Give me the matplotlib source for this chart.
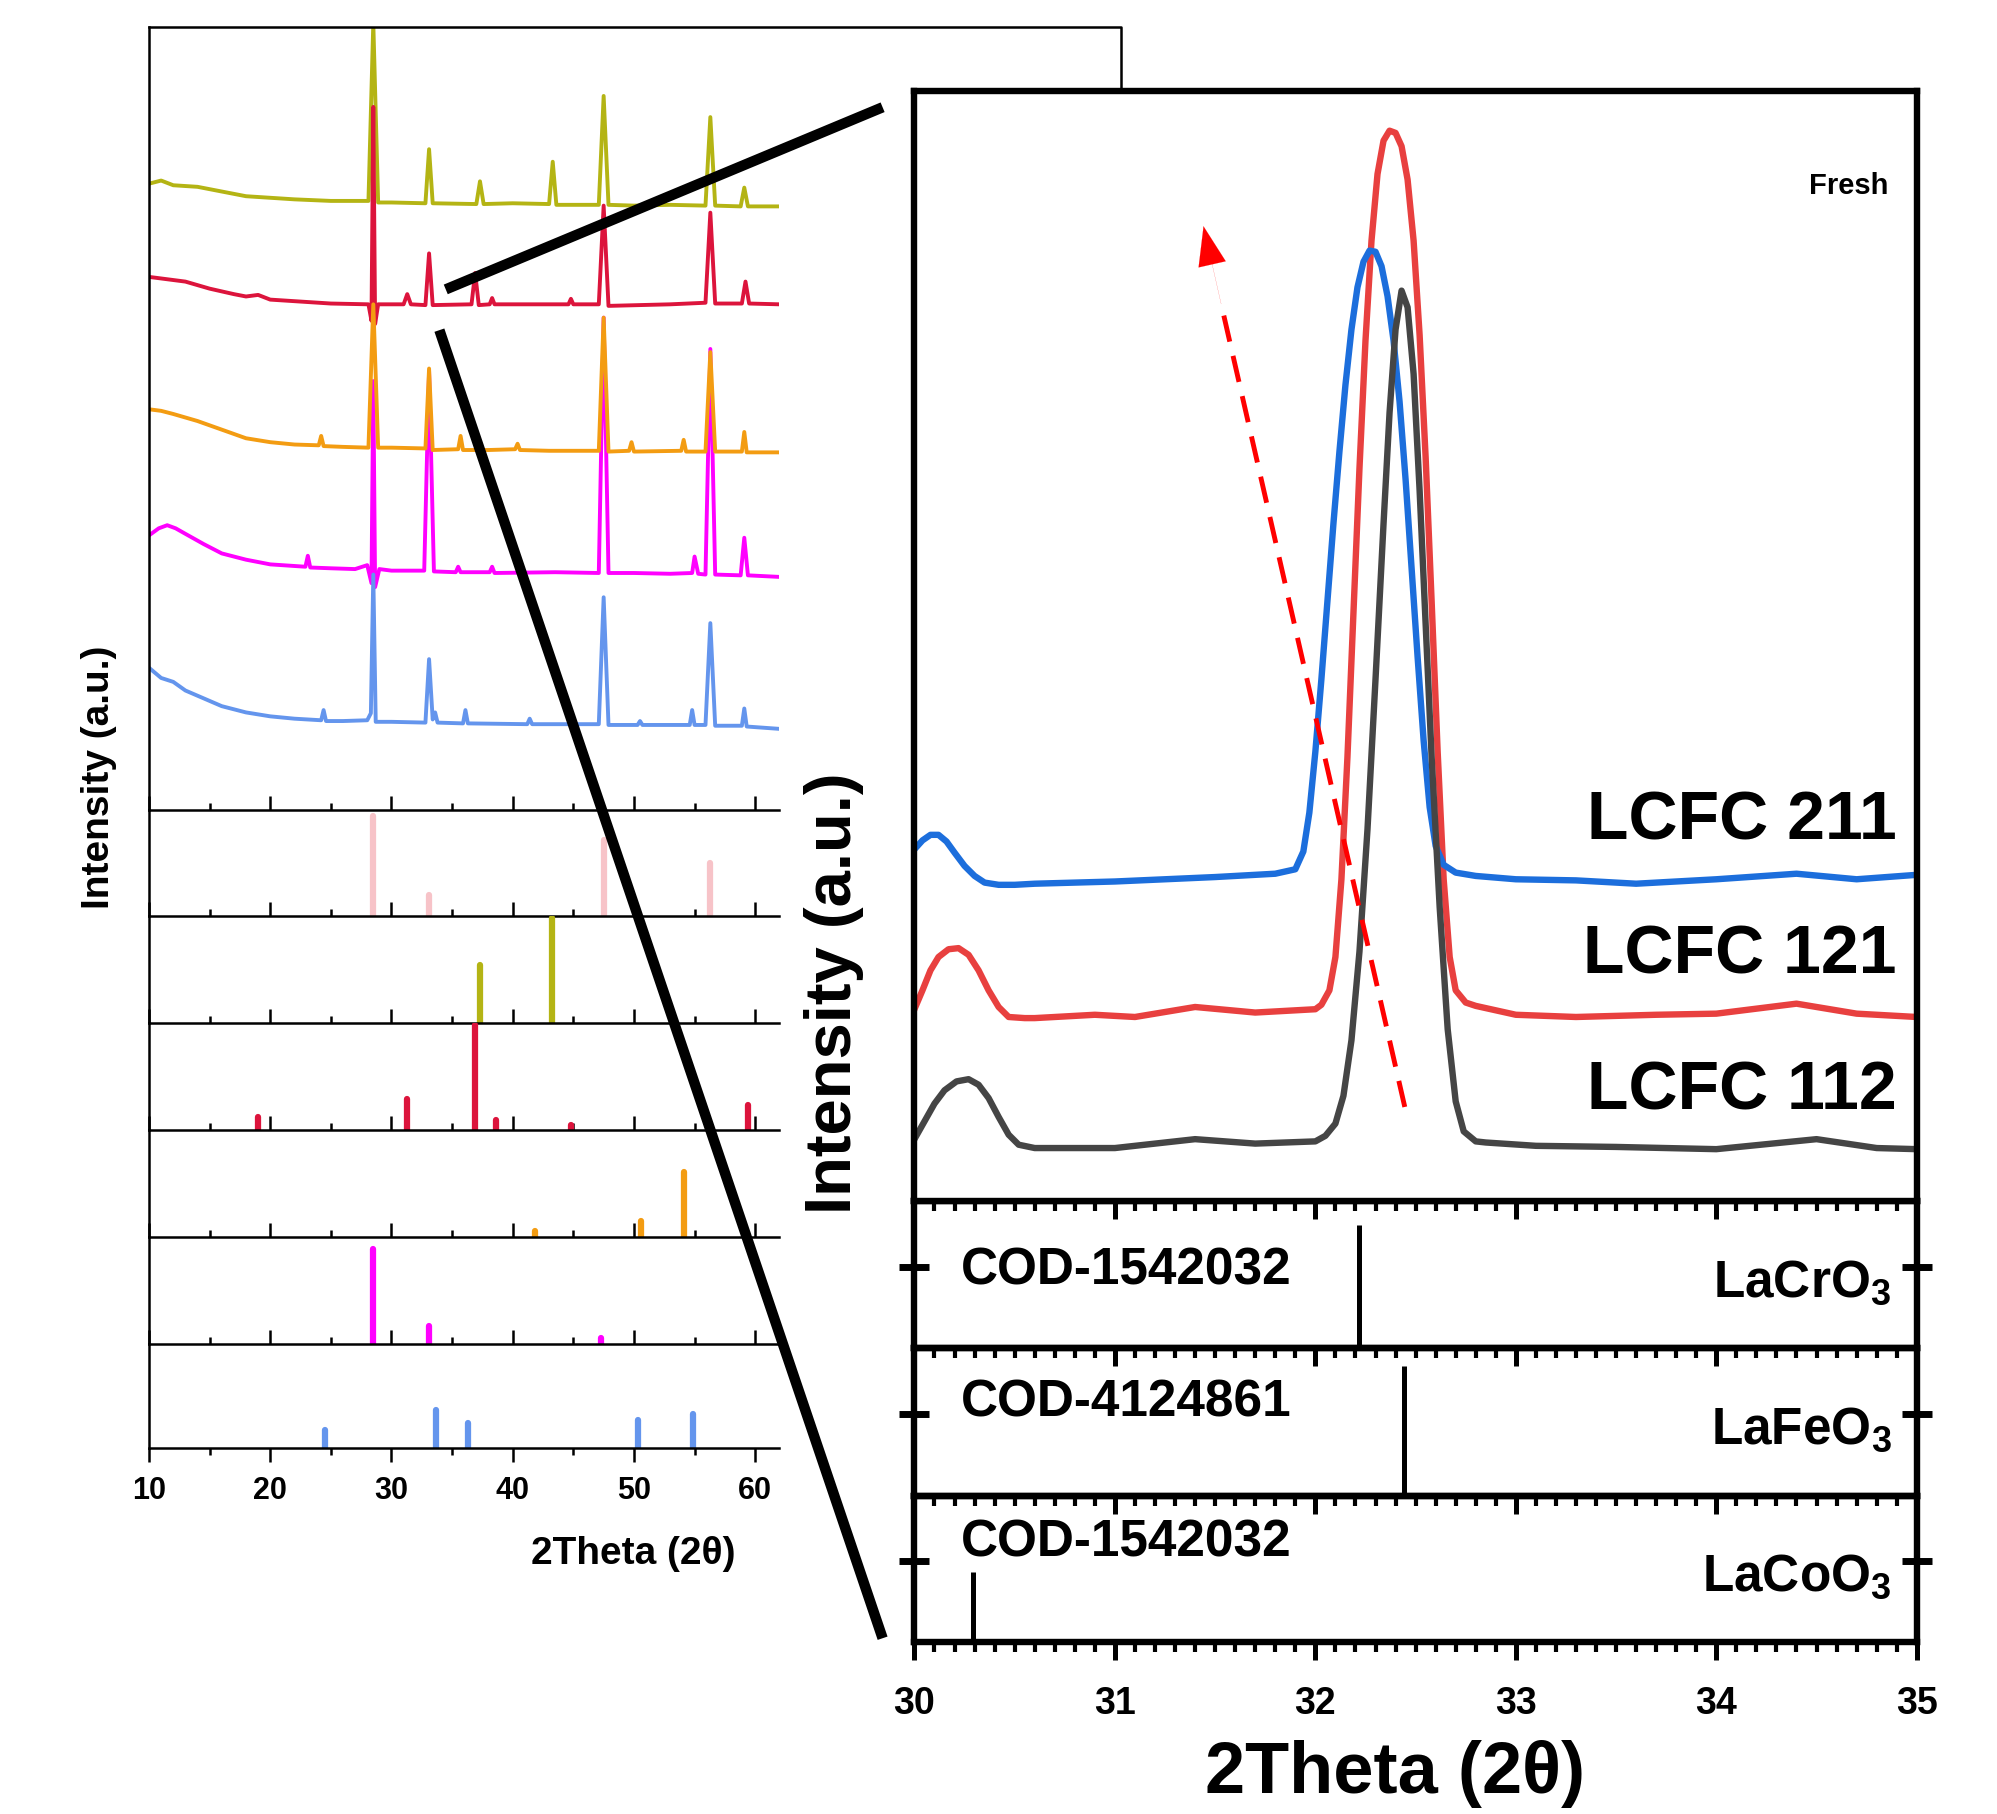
import matplotlib
matplotlib.use("Agg")
import matplotlib.pyplot as plt
from matplotlib.lines import Line2D
from matplotlib.ticker import MultipleLocator

plt.rcParams['font.family'] = ['Liberation Sans', 'DejaVu Sans']
plt.rcParams['font.weight'] = 'bold'
plt.rcParams['mathtext.fontset'] = 'custom'
plt.rcParams['mathtext.rm'] = 'Liberation Sans:bold'
plt.rcParams['mathtext.it'] = 'Liberation Sans:bold'
plt.rcParams['mathtext.bf'] = 'Liberation Sans:bold'
plt.rcParams['mathtext.default'] = 'rm'

# ---------------- datos: panel izquierdo (2theta, intensidad a.u.) ----------------
olivo = [(10, 80.0), (11, 80.4), (12, 79.8), (14, 79.6), (16, 79.0), (18, 78.4), (20, 78.2),
         (22, 78.0), (25, 77.8), (28.1, 77.8), (28.5, 100.5), (28.9, 77.6), (30, 77.6),
         (32.8, 77.5), (33.1, 84.4), (33.4, 77.5), (37.0, 77.4), (37.3, 80.3), (37.6, 77.4),
         (40, 77.5), (43.0, 77.4), (43.3, 82.8), (43.6, 77.3), (47.1, 77.3), (47.5, 91.2),
         (47.9, 77.3), (50, 77.2), (53, 77.3), (55.9, 77.2), (56.3, 88.5), (56.7, 77.2),
         (58.8, 77.1), (59.1, 79.5), (59.4, 77.1), (62, 77.1)]
carmesi = [(10, 68.1), (11.5, 67.8), (13, 67.5), (15, 66.6), (17, 65.9), (18, 65.6), (19, 65.8),
           (20, 65.2), (22, 65.0), (25, 64.7), (28.1, 64.6), (28.35, 62.5), (28.5, 89.8),
           (28.65, 62.1), (28.9, 64.6), (31.0, 64.6), (31.3, 65.9), (31.6, 64.6), (32.8, 64.5),
           (33.1, 71.1), (33.4, 64.5), (36.6, 64.6), (36.9, 68.6), (37.2, 64.5), (38.1, 64.6),
           (38.3, 65.4), (38.5, 64.6), (44.6, 64.6), (44.8, 65.3), (45.0, 64.6), (47.1, 64.6),
           (47.5, 77.2), (47.9, 64.4), (53, 64.6), (55.9, 64.8), (56.3, 76.3), (56.7, 64.7),
           (58.9, 64.7), (59.2, 67.5), (59.5, 64.7), (62, 64.6)]
naranja = [(10, 51.2), (11, 51.0), (12, 50.6), (14, 49.7), (16, 48.6), (18, 47.5), (20, 47.0),
           (22, 46.7), (24.0, 46.6), (24.2, 47.8), (24.4, 46.5), (26, 46.4), (28.1, 46.3),
           (28.5, 64.6), (28.9, 46.3), (30, 46.3), (32.8, 46.2), (33.1, 56.4), (33.4, 46.0),
           (35.5, 46.1), (35.7, 47.8), (35.9, 46.0), (38, 46.0), (40.2, 46.1), (40.4, 46.8),
           (40.6, 46.0), (43, 45.9), (47.1, 45.9), (47.5, 62.9), (47.9, 45.8), (49.6, 45.9),
           (49.8, 47.0), (50.0, 45.8), (53.9, 45.9), (54.1, 47.3), (54.3, 45.8), (55.9, 45.8),
           (56.3, 58.5), (56.7, 45.8), (58.9, 45.8), (59.1, 48.3), (59.3, 45.7), (62, 45.7)]
magenta = [(10, 35.1), (10.8, 36.0), (11.5, 36.4), (12.2, 36.0), (13, 35.3), (14.5, 34.0),
           (16, 32.8), (18, 32.0), (20, 31.4), (22.9, 31.1), (23.1, 32.5), (23.3, 31.0), (25, 30.9),
           (27, 30.8), (28.0, 31.3), (28.35, 29.0), (28.5, 54.8), (28.65, 28.5), (29.0, 30.8),
           (30, 30.6), (32.7, 30.6), (33.1, 56.1), (33.5, 30.5), (35.3, 30.4), (35.5, 31.1),
           (35.7, 30.4), (38.1, 30.4), (38.3, 31.1), (38.5, 30.3), (43.5, 30.4), (47.1, 30.3),
           (47.5, 62.9), (47.9, 30.3), (50, 30.3), (53, 30.2), (54.8, 30.3), (55.0, 32.4),
           (55.3, 30.2), (55.9, 30.1), (56.3, 58.9), (56.7, 30.1), (58.8, 30.0), (59.1, 34.8),
           (59.4, 30.0), (62, 29.8)]
azul = [(10, 18.2), (11, 16.9), (12, 16.4), (13, 15.3), (14.5, 14.3), (16, 13.3), (18, 12.5),
        (20, 12.0), (22, 11.7), (24.2, 11.5), (24.4, 12.8), (24.6, 11.4), (26, 11.4), (28.0, 11.5),
        (28.3, 12.4), (28.5, 30.1), (28.7, 11.3), (30, 11.3), (32.8, 11.2), (33.1, 19.3),
        (33.4, 11.6), (33.6, 12.5), (33.8, 11.2), (35.9, 11.1), (36.1, 12.8), (36.3, 11.1),
        (41.2, 11.0), (41.4, 11.7), (41.6, 11.0), (47.1, 11.0), (47.5, 27.2), (47.9, 10.9),
        (50.3, 10.9), (50.5, 11.4), (50.7, 10.9), (54.6, 10.9), (54.8, 12.8), (55.0, 10.9),
        (55.9, 10.9), (56.3, 23.9), (56.7, 10.8), (58.9, 10.8), (59.1, 13.0), (59.3, 10.7),
        (62, 10.4)]

# patrones de referencia (posicion, intensidad relativa)
ref_pos = [[28.5, 33.1, 47.5, 56.3],
           [37.3, 43.2],
           [19.0, 31.3, 36.9, 38.6, 44.8, 59.4],
           [41.8, 50.6, 54.1],
           [28.5, 33.1, 47.3],
           [24.5, 33.7, 36.3, 50.3, 54.9]]
ref_int = [[0.95, 0.20, 0.72, 0.50],
           [0.54, 0.98],
           [0.12, 0.29, 0.98, 0.09, 0.05, 0.23],
           [0.06, 0.15, 0.61],
           [0.89, 0.17, 0.06],
           [0.18, 0.37, 0.24, 0.27, 0.33]]
ref_col = ['#F7C3C8', '#B4B414', '#DC143C', '#F39C12', '#FF00FF', '#6495ED']

# ---------------- datos: zoom derecho 30-35 ----------------
x211 = [30.0, 30.04, 30.08, 30.12, 30.16, 30.2, 30.25, 30.3, 30.35, 30.42, 30.5, 30.6, 31.0, 31.5,
        31.8, 31.9, 31.94, 31.97, 32.0, 32.03, 32.06, 32.09, 32.12, 32.15, 32.18, 32.21, 32.24,
        32.27, 32.3, 32.33, 32.36, 32.39, 32.42, 32.45, 32.48, 32.51, 32.54, 32.57, 32.6, 32.64,
        32.7, 32.8, 33.0, 33.3, 33.6, 34.0, 34.4, 34.7, 35.0]
y211 = [31.7, 32.5, 33.0, 33.0, 32.4, 31.4, 30.2, 29.3, 28.7, 28.5, 28.5, 28.6, 28.8, 29.2,
        29.5, 29.9, 31.5, 35.0, 40.5, 47.0, 54.0, 61.0, 67.5, 73.5, 78.5, 82.3, 84.6,
        85.6, 85.5, 84.2, 81.5, 77.5, 72.0, 65.0, 57.0, 49.0, 41.5, 35.5, 32.0, 30.3,
        29.6, 29.3, 29.0, 28.9, 28.6, 29.0, 29.5, 29.0, 29.4]
x121 = [30.0, 30.04, 30.08, 30.12, 30.17, 30.22, 30.27, 30.32, 30.37, 30.42, 30.47, 30.55, 30.6,
        30.9, 31.1, 31.4, 31.7, 32.0, 32.03, 32.07, 32.1, 32.13, 32.16, 32.19, 32.22, 32.25,
        32.28, 32.31, 32.34, 32.37, 32.4, 32.43, 32.46, 32.49, 32.52, 32.55, 32.58, 32.61, 32.64,
        32.67, 32.7, 32.75, 32.8, 33.0, 33.3, 33.7, 34.0, 34.4, 34.7, 35.0]
y121 = [17.3, 19.0, 20.8, 22.0, 22.7, 22.8, 22.2, 20.8, 19.0, 17.5, 16.6, 16.5, 16.5,
        16.8, 16.6, 17.5, 17.0, 17.3, 17.7, 19.0, 22.0, 29.0, 40.0, 53.0, 66.0, 77.5,
        86.5, 92.5, 95.5, 96.4, 96.2, 95.0, 92.0, 86.5, 78.0, 67.0, 54.0, 40.5, 29.0,
        22.0, 19.0, 17.9, 17.6, 16.8, 16.6, 16.8, 16.9, 17.8, 16.9, 16.6]
x112 = [30.0, 30.05, 30.1, 30.15, 30.21, 30.27, 30.32, 30.37, 30.42, 30.47, 30.52, 30.6, 31.0,
        31.4, 31.7, 32.0, 32.05, 32.1, 32.14, 32.18, 32.22, 32.26, 32.3, 32.34, 32.37, 32.4,
        32.43, 32.46, 32.49, 32.52, 32.55, 32.58, 32.62, 32.66, 32.7, 32.74, 32.8, 32.85, 33.1,
        33.5, 34.0, 34.5, 34.8, 35.0]
y112 = [5.6, 7.2, 8.8, 10.0, 10.8, 11.0, 10.5, 9.3, 7.6, 6.0, 5.1, 4.8, 4.8,
        5.6, 5.2, 5.4, 5.9, 7.0, 9.5, 14.5, 22.5, 33.5, 47.0, 61.0, 71.0, 78.5,
        82.0, 80.5, 74.5, 64.0, 52.0, 40.0, 26.5, 15.5, 9.0, 6.3, 5.4, 5.3, 5.0,
        4.9, 4.7, 5.6, 4.8, 4.7]

cod_pos = [32.22, 32.44, 30.29]
cod_int = [0.84, 0.88, 0.48]
cod_txt = ['COD-1542032', 'COD-4124861', 'COD-1542032']
fases = ['LaCrO$_3$', 'LaFeO$_3$', 'LaCoO$_3$']

# ---------------- figura ----------------
fig = plt.figure(figsize=(19.97, 18.15), dpi=100)
W, H = 1568.0, 1425.0


def caja(x0, x1, y0, y1):
    return [x0 / W, 1 - y1 / H, (x1 - x0) / W, (y1 - y0) / H]


# panel izquierdo: difractogramas
axL = fig.add_axes(caja(117, 612, 22, 637))
for datos, color in [(olivo, '#B4B414'), (carmesi, '#DC143C'), (magenta, '#FF00FF'),
                     (naranja, '#F39C12'), (azul, '#6495ED')]:
    xs, ys = zip(*datos)
    axL.plot(xs, ys, color=color, lw=2.8)
axL.set_xlim(10, 62)
axL.set_ylim(0, 100)
for s in ['top', 'right']:
    axL.spines[s].set_visible(False)
for s in ['left', 'bottom']:
    axL.spines[s].set_linewidth(1.8)
axL.set_yticks([])
axL.xaxis.set_major_locator(MultipleLocator(10))
axL.xaxis.set_minor_locator(MultipleLocator(5))
axL.tick_params(axis='x', which='both', direction='in', width=1.8, labelbottom=False)
axL.tick_params(axis='x', which='major', length=10)
axL.tick_params(axis='x', which='minor', length=5)

bordes = [637, 720, 804, 888, 972, 1056, 1138]
for i in range(6):
    ax = fig.add_axes(caja(117, 612, bordes[i], bordes[i + 1]))
    ax.patch.set_visible(False)
    ax.vlines(ref_pos[i], 0, ref_int[i], color=ref_col[i], lw=4.5, capstyle='round')
    ax.set_xlim(10, 62)
    ax.set_ylim(0, 1)
    for s in ['top', 'right']:
        ax.spines[s].set_visible(False)
    for s in ['left', 'bottom']:
        ax.spines[s].set_linewidth(1.8)
    ax.set_yticks([])
    ax.xaxis.set_major_locator(MultipleLocator(10))
    ax.xaxis.set_minor_locator(MultipleLocator(5))
    ultimo = i == 5
    ax.tick_params(axis='x', which='both', direction='out' if ultimo else 'in', width=1.8,
                   labelbottom=ultimo, labelsize=22, pad=9)
    ax.tick_params(axis='x', which='major', length=10)
    ax.tick_params(axis='x', which='minor', length=5)
    for lab in ax.get_xticklabels():
        lab.set_fontweight('bold')

fig.text(78 / W, 1 - 610 / H, 'Intensity (a.u.)', rotation=90, ha='center', va='center',
         fontsize=28, fontweight='bold')
fig.text(497 / W, 1 - 1220 / H, '2Theta (2θ)', ha='center', va='center',
         fontsize=28, fontweight='bold')

# marco superior del panel izquierdo
fig.add_artist(Line2D([117 / W, 880 / W, 880 / W], [1 - 22 / H, 1 - 22 / H, 1 - 72 / H],
                      transform=fig.transFigure, color='k', lw=1.8))

# lineas de zoom
fig.add_artist(Line2D([350 / W, 693 / W], [1 - 228 / H, 1 - 85 / H],
                      transform=fig.transFigure, color='k', lw=7.5, solid_capstyle='butt'))
fig.add_artist(Line2D([345 / W, 693 / W], [1 - 260 / H, 1 - 1287 / H],
                      transform=fig.transFigure, color='k', lw=7.5, solid_capstyle='butt'))

# panel derecho: zoom
axR = fig.add_axes(caja(718, 1505, 72, 944))
axR.set_zorder(3)
axR.plot(x121, y121, color='#E8403F', lw=4.6)
axR.plot(x211, y211, color='#1C6EDC', lw=4.6)
axR.plot(x112, y112, color='#454545', lw=4.6)
axR.set_xlim(30, 35)
axR.set_ylim(0, 100)
axR.set_yticks([])
for s in axR.spines.values():
    s.set_linewidth(4.6)
axR.xaxis.set_major_locator(MultipleLocator(1))
axR.xaxis.set_minor_locator(MultipleLocator(0.1))
axR.tick_params(axis='x', which='both', direction='out', labelbottom=False)
axR.tick_params(axis='x', which='major', length=13, width=3.6)
axR.tick_params(axis='x', which='minor', length=7, width=3)

# flecha roja discontinua
axR.plot([32.446, 31.53], [8.5, 80.8], color='red', lw=3.5, linestyle=(0, (5.5, 3)))
axR.annotate('', xy=(31.442, 87.8), xytext=(31.53, 80.8),
             arrowprops=dict(arrowstyle='-|>,head_length=1.4,head_width=0.5', color='red',
                             lw=0.1, mutation_scale=20, shrinkA=0, shrinkB=0))

axR.text(34.86, 91.5, 'Fresh', ha='right', va='center', fontsize=21, fontweight='bold')
for y, txt in [(34.3, 'LCFC 211'), (22.2, 'LCFC 121'), (10.0, 'LCFC 112')]:
    axR.text(34.9, y, txt, ha='right', va='center', fontsize=49, fontweight='bold')

bordesR = [944, 1059, 1175, 1290]
ytxt = [0.53, 0.63, 0.68]
for i in range(3):
    ax = fig.add_axes(caja(718, 1505, bordesR[i], bordesR[i + 1]))
    ax.set_zorder(2 - i)
    ax.patch.set_visible(False)
    ax.vlines([cod_pos[i]], 0, [cod_int[i]], color='k', lw=3.6)
    ax.set_xlim(30, 35)
    ax.set_ylim(0, 1)
    for s in ax.spines.values():
        s.set_linewidth(4.6)
    ax.set_yticks([0.555])
    ax.yaxis.set_ticks_position('both')
    ax.tick_params(axis='y', direction='inout', length=22, width=5, labelleft=False)
    ax.xaxis.set_major_locator(MultipleLocator(1))
    ax.xaxis.set_minor_locator(MultipleLocator(0.1))
    ultimo = i == 2
    ax.tick_params(axis='x', which='both', direction='out', labelbottom=ultimo,
                   labelsize=27, pad=18)
    ax.tick_params(axis='x', which='major', length=13, width=3.6)
    ax.tick_params(axis='x', which='minor', length=7, width=3)
    for lab in ax.get_xticklabels():
        lab.set_fontweight('bold')
    ax.text(30.23, ytxt[i], cod_txt[i], ha='left', va='center', fontsize=37, fontweight='bold')
    ax.text(0.975, 0.45, fases[i], transform=ax.transAxes, ha='right', va='center',
            fontsize=37, fontweight='bold')

fig.text(655 / W, 1 - 780 / H, 'Intensity (a.u.)', rotation=90, ha='center', va='center',
         fontsize=47, fontweight='bold')
fig.text(1095 / W, 1 - 1393 / H, '2Theta (2θ)', ha='center', va='center',
         fontsize=52, fontweight='bold')

fig.savefig('out.png', dpi=100)
